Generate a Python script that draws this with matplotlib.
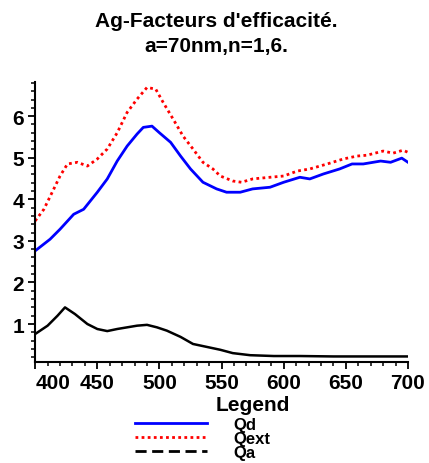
import numpy as np
import matplotlib.pyplot as plt
from matplotlib.lines import Line2D
from matplotlib.ticker import MultipleLocator

plt.rcParams['font.family'] = ['Liberation Sans', 'DejaVu Sans']
plt.rcParams['font.weight'] = 'bold'

# efficiency factors of a silver sphere, a=70nm, n=1.6
lam_d = [400, 412, 420, 431, 439, 450, 458, 466, 474, 482, 487, 494, 500, 509, 517,
         525, 535, 546, 554, 565, 575, 589, 600, 613, 621, 632, 645, 655, 664, 678,
         686, 695, 700]
Qd = [2.76, 3.04, 3.28, 3.64, 3.76, 4.17, 4.49, 4.92, 5.28, 5.57, 5.73, 5.76, 5.60, 5.37, 5.04,
      4.73, 4.41, 4.25, 4.17, 4.17, 4.25, 4.29, 4.41, 4.53, 4.49, 4.61, 4.73, 4.85, 4.85, 4.92,
      4.89, 4.99, 4.89]

lam_ext = [400, 407, 415, 420, 426, 434, 442, 450, 458, 466, 474, 482, 490, 497, 503,
           511, 519, 527, 535, 543, 549, 559, 566, 575, 589, 600, 611, 621, 635, 648,
           659, 667, 680, 688, 696, 700]
Qext = [3.48, 3.76, 4.25, 4.56, 4.85, 4.89, 4.80, 4.97, 5.21, 5.60, 6.09, 6.41, 6.69, 6.65, 6.33,
        5.93, 5.52, 5.21, 4.89, 4.73, 4.56, 4.44, 4.41, 4.49, 4.53, 4.56, 4.68, 4.73, 4.85, 4.97,
        5.04, 5.06, 5.16, 5.11, 5.18, 5.13]

lam_a = [400, 410, 418, 424, 432, 442, 450, 458, 466, 474, 482, 490, 498, 506, 517,
         527, 538, 549, 559, 573, 592, 613, 640, 670, 700]
Qa = [0.76, 0.96, 1.20, 1.40, 1.24, 1.00, 0.88, 0.83, 0.88, 0.92, 0.96, 0.98, 0.92, 0.84, 0.69,
      0.52, 0.45, 0.38, 0.30, 0.25, 0.23, 0.23, 0.22, 0.22, 0.22]

fig = plt.figure(figsize=(4.29, 4.64), dpi=100)
ax = fig.add_axes([0.082, 0.218, 0.869, 0.603])

ax.plot(lam_d, Qd, color='#0000ff', lw=2.0)
ax.plot(lam_ext, Qext, color='#ff0000', lw=2.0, linestyle=(0, (1, 1.2)))
ax.plot(lam_a, Qa, color='black', lw=1.8)

ax.set_xlim(400, 700)
ax.set_ylim(0.09, 6.82)
for s in ['top', 'right']:
    ax.spines[s].set_visible(False)
for s in ['left', 'bottom']:
    ax.spines[s].set_linewidth(1.5)

ax.xaxis.set_major_locator(MultipleLocator(50))
ax.xaxis.set_minor_locator(MultipleLocator(10))
ax.yaxis.set_major_locator(MultipleLocator(1))
ax.yaxis.set_minor_locator(MultipleLocator(0.2))
ax.tick_params(which='major', length=5, width=1.3, labelsize=15, pad=3)
ax.tick_params(which='minor', length=3, width=1.1)
ax.set_yticks([1, 2, 3, 4, 5, 6])
ax.set_xticks([400, 450, 500, 550, 600, 650, 700])
ax.get_xticklabels()[0].set_horizontalalignment('left')

fig.suptitle("Ag-Facteurs d'efficacité.\na=70nm,n=1,6.", x=0.505, y=0.975,
             fontsize=15, fontweight='bold', linespacing=1.45)

fig.text(0.59, 0.125, 'Legend', ha='center', va='center', fontsize=15, fontweight='bold')
handles = [Line2D([], [], color='#0000ff', lw=2.0),
           Line2D([], [], color='#ff0000', lw=2.0, linestyle=(0, (1, 1.2))),
           Line2D([], [], color='black', lw=2.0, linestyle=(0, (4, 2)))]
fig.legend(handles, ['Qd', 'Qext', 'Qa'], loc='upper left', bbox_to_anchor=(0.315, 0.1),
           frameon=False, fontsize=12, handlelength=4.3, handletextpad=1.6,
           labelspacing=-0.05, borderpad=0, borderaxespad=0)

fig.savefig('out.png', dpi=100)
